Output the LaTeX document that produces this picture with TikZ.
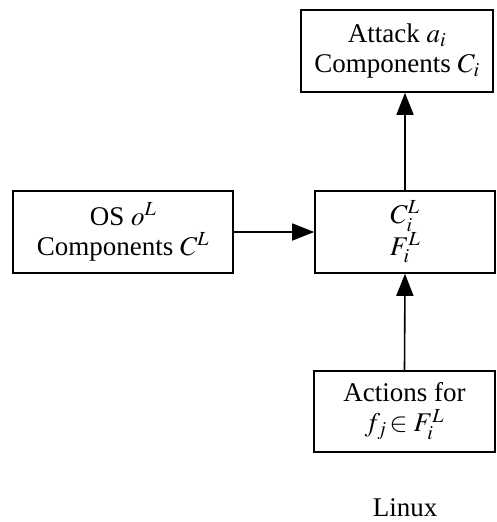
\documentclass[tikz,border=0pt]{standalone}
\usepackage{mathptmx}
\usepackage{fontspec}
\setmainfont{Liberation Serif}
\usetikzlibrary{arrows.meta}
\tikzset{
  box/.style={draw, line width=1.6pt, inner sep=0pt, align=center,
    font=\fontsize{27}{30}\selectfont},
  link/.style={line width=1.6pt, -{Triangle[length=22pt,width=17pt]}},
}
\begin{document}
\begin{tikzpicture}[x=1pt,y=-1pt]
  \useasboundingbox (0,0) rectangle (496,522);
  \node[box, minimum width=192pt, minimum height=82pt] (attack) at (397,51)
    {Attack $a_i$\\Components $C_i$};
  \node[box, minimum width=220pt, minimum height=82pt] (os) at (123,232)
    {OS $o^L$\\Components $C^L$};
  \node[box, minimum width=180pt, minimum height=82pt] (cf) at (405,232)
    {$C_i^L$\\$F_i^L$};
  \node[box, minimum width=181pt, minimum height=81pt] (act) at (404.5,411.5)
    {Actions for\\$f_j\!\in F_i^L$};
  \node[inner sep=0pt, anchor=base, font=\fontsize{27}{30}\selectfont]
    (lbl) at (405,516) {Linux};
  \draw[link] (cf.north) -- (cf.north |- attack.south);
  \draw[link] (os.east) -- (cf.west);
  \draw[link] (act.north) -- (cf.south);
\end{tikzpicture}
\end{document}
